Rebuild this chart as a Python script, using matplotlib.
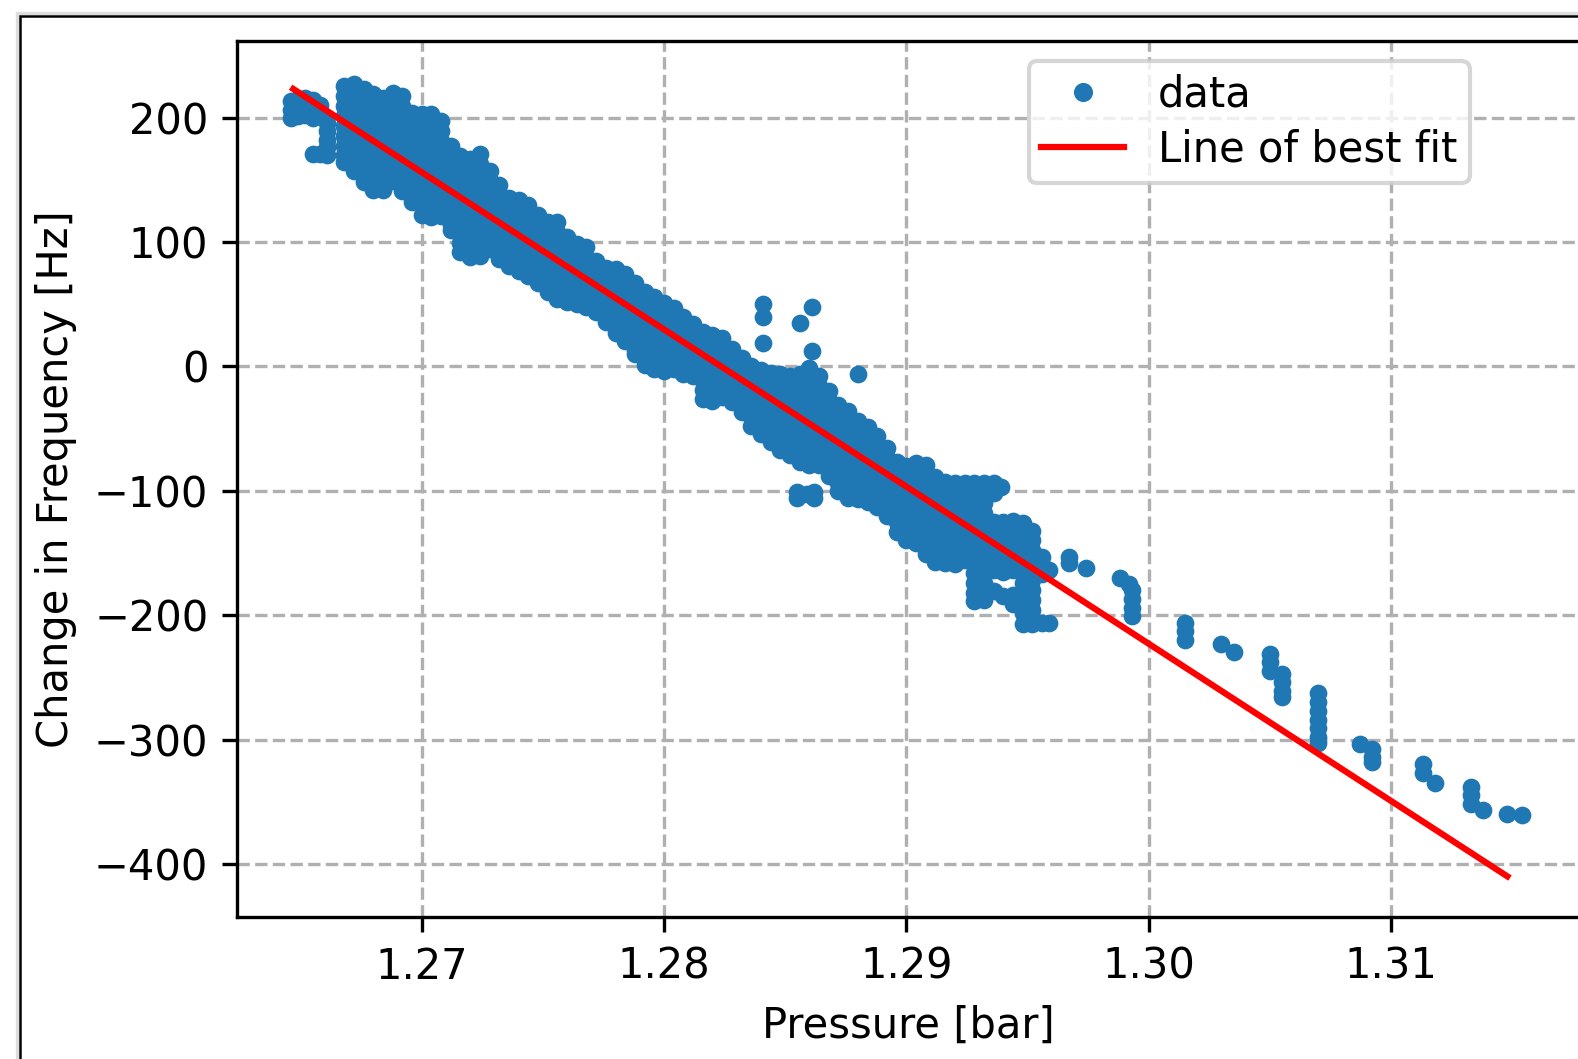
import matplotlib
matplotlib.use("Agg")
import matplotlib.pyplot as plt
from matplotlib.patches import Rectangle

# pressure [bar] of each column of the dense cloud, and the frequency values in it [Hz]
band_p = [1.2668, 1.2672, 1.2676, 1.2680, 1.2684, 1.2688, 1.2692, 1.2696, 1.2700, 1.2704,
          1.2708, 1.2712, 1.2716, 1.2720, 1.2724, 1.2728, 1.2732, 1.2736, 1.2740, 1.2744,
          1.2748, 1.2752, 1.2756, 1.2760, 1.2764, 1.2768, 1.2772, 1.2776, 1.2780, 1.2784,
          1.2788, 1.2792, 1.2796, 1.2800, 1.2804, 1.2808, 1.2812, 1.2816, 1.2820, 1.2824,
          1.2828, 1.2832, 1.2836, 1.2840, 1.2844, 1.2848, 1.2852, 1.2856, 1.2860, 1.2864,
          1.2868, 1.2872, 1.2876, 1.2880, 1.2884, 1.2888, 1.2892, 1.2896, 1.2900, 1.2904,
          1.2908, 1.2912, 1.2916, 1.2920, 1.2924, 1.2928, 1.2932, 1.2936, 1.2939, 1.2940,
          1.2944, 1.2948, 1.2952, 1.2956, 1.2959]
band_f = [
    [225, 217, 209, 201, 193, 185, 177, 170, 164],
    [227, 219, 211, 203, 195, 187, 179, 171, 164, 157],
    [223, 215, 207, 199, 191, 183, 175, 167, 159, 152, 148],
    [219, 211, 203, 195, 187, 179, 171, 163, 155, 148, 142],
    [216, 208, 200, 192, 184, 176, 168, 160, 152, 146, 142],
    [220, 212, 204, 196, 188, 180, 172, 164, 156, 149],
    [217, 209, 201, 193, 185, 177, 169, 161, 153, 146, 141],
    [204, 196, 188, 180, 172, 164, 156, 148, 140, 132],
    [203, 195, 187, 179, 171, 163, 155, 147, 139, 131, 122],
    [203, 195, 187, 179, 171, 163, 155, 147, 139, 131, 124, 120],
    [197, 189, 181, 173, 165, 157, 149, 141, 133, 126, 121],
    [177, 169, 161, 153, 145, 137, 129, 121, 114, 110],
    [169, 161, 153, 145, 137, 129, 121, 113, 106, 99, 92],
    [167, 159, 151, 143, 135, 127, 119, 111, 103, 95, 88],
    [171, 163, 155, 147, 139, 131, 123, 115, 107, 99, 93, 89],
    [157, 149, 141, 133, 125, 117, 109, 101, 94],
    [146, 138, 130, 122, 114, 106, 98, 91, 86],
    [135, 127, 119, 111, 103, 95, 88, 81],
    [134, 126, 118, 110, 102, 94, 86, 80, 77],
    [130, 122, 114, 106, 98, 90, 82, 76, 73],
    [122, 114, 106, 98, 90, 82, 74, 67],
    [116, 108, 100, 92, 84, 76, 68, 60],
    [116, 108, 100, 92, 84, 76, 68, 61, 54],
    [104, 96, 88, 80, 72, 64, 57, 52],
    [98, 90, 82, 74, 66, 58, 50],
    [96, 88, 80, 72, 64, 56, 48],
    [85, 77, 69, 61, 53, 47, 44],
    [79, 71, 63, 55, 47, 40, 36],
    [78, 70, 62, 54, 46, 38, 31, 27],
    [74, 66, 58, 50, 42, 34, 27, 20],
    [67, 59, 51, 43, 35, 27, 19, 13, 10],
    [60, 52, 44, 36, 28, 20, 12, 5, 1],
    [56, 48, 40, 32, 24, 16, 8, 2, -2],
    [51, 43, 35, 27, 19, 11, 4, -4],
    [47, 39, 31, 23, 15, 7, 0, -2],
    [40, 32, 24, 16, 8, 1, -6],
    [34, 26, 18, 10, 2, -5, -8],
    [28, 20, 12, 4, -4, -12, -19, -26],
    [25, 17, 9, 1, -7, -15, -22, -28],
    [23, 15, 7, -1, -9, -17, -25],
    [14, 6, -2, -10, -18, -25, -29],
    [7, -1, -9, -17, -25, -32, -37],
    [0, -8, -16, -24, -32, -40, -48],
    [-3, -11, -19, -27, -35, -43, -50, -54],
    [-5, -13, -21, -29, -37, -45, -53, -61],
    [-6, -14, -22, -30, -38, -46, -54, -61, -67],
    [-8, -16, -24, -32, -40, -48, -56, -64, -71],
    [-6, -14, -22, -30, -38, -46, -54, -62, -70, -77],
    [-1, -9, -17, -25, -33, -41, -49, -57, -65, -72, -79],
    [-8, -16, -24, -32, -40, -48, -56, -64, -72, -79],
    [-20, -28, -36, -44, -52, -60, -68, -76, -83, -88],
    [-31, -39, -47, -55, -63, -71, -79, -87, -94, -100],
    [-36, -44, -52, -60, -68, -76, -84, -92, -100, -106],
    [-44, -52, -60, -68, -76, -84, -92, -100, -107],
    [-49, -57, -65, -73, -81, -89, -97, -104, -109],
    [-56, -64, -72, -80, -88, -96, -104, -110, -113],
    [-66, -74, -82, -90, -98, -106, -114, -120],
    [-77, -85, -93, -101, -109, -117, -125, -133],
    [-80, -88, -96, -104, -112, -120, -128, -135, -140],
    [-78, -86, -94, -102, -110, -118, -126, -134, -142],
    [-79, -87, -95, -103, -111, -119, -127, -135, -143, -151],
    [-89, -97, -105, -113, -121, -129, -137, -145, -152, -157],
    [-93, -101, -109, -117, -125, -133, -141, -149, -158],
    [-94, -102, -110, -118, -126, -134, -142, -150, -159],
    [-94, -102, -110, -118, -126, -134, -142, -150, -156],
    [-94, -102, -110, -118, -126, -134, -142, -150, -158, -166, -174, -182, -189],
    [-94, -102, -110, -118, -126, -134, -142, -150, -158, -166, -174, -182, -188],
    [-94, -102, -125, -133, -141, -149, -157, -164, -181],
    [-97],
    [-125, -133, -141, -149, -157, -165, -185],
    [-124, -132, -140, -148, -156, -164, -184, -191],
    [-126, -134, -142, -150, -158, -166, -174, -182, -190, -198, -207],
    [-132, -140, -148, -156, -164, -172, -180, -188, -196, -204, -207],
    [-153, -160, -167, -206],
    [-164, -206],
]

# small clumps at the start of the run
start_p = [1.2646, 1.2646, 1.2646, 1.2649, 1.2649, 1.2649, 1.2652, 1.2652, 1.2652,
           1.2655, 1.2655, 1.2655, 1.2658, 1.2658,
           1.2661, 1.2661, 1.2661, 1.2661, 1.2661, 1.2655, 1.2658]
start_f = [213, 206, 200, 215, 208, 201, 216, 209, 202,
           214, 207, 200, 210, 202,
           196, 189, 182, 176, 170, 171, 171]

# stray points off the band
stray_p = [1.2841, 1.2841, 1.2841, 1.2861, 1.2856, 1.2861, 1.2880,
           1.2855, 1.2855, 1.2859, 1.2862, 1.2862]
stray_f = [50, 40, 19, 48, 35, 12, -6,
           -101, -106, -103, -101, -106]

# sparse points at high pressure
tail_p = [1.2967, 1.2967, 1.2974, 1.2988, 1.2992, 1.2993, 1.2993, 1.2993, 1.2993,
          1.3015, 1.3015, 1.3015, 1.3030, 1.3035, 1.3050, 1.3050, 1.3050,
          1.3055, 1.3055, 1.3055, 1.3055,
          1.3070, 1.3070, 1.3070, 1.3070, 1.3070, 1.3070, 1.3070,
          1.3087, 1.3092, 1.3092, 1.3092, 1.3113, 1.3113, 1.3118,
          1.3133, 1.3133, 1.3133, 1.3138, 1.3148, 1.3154]
tail_f = [-153, -158, -162, -170, -175, -180, -187, -194, -201,
          -206, -213, -220, -223, -230, -231, -238, -245,
          -247, -254, -261, -266,
          -263, -270, -277, -284, -291, -298, -303,
          -304, -308, -314, -318, -320, -327, -335,
          -338, -345, -352, -357, -360, -361]

# end points of the fitted line
fit_p = [1.2647, 1.3148]
fit_f = [223, -410]

pressure = []
freq = []
for p, col in zip(band_p, band_f):
    pressure += [p] * len(col)
    freq += col
pressure += start_p + stray_p + tail_p
freq += start_f + stray_f + tail_f

fig = plt.figure(figsize=(5.26, 3.53), dpi=300)
ax = fig.add_axes([0.1505, 0.1343, 0.8508, 0.8267])

ax.plot(pressure, freq, '.', color='#1f77b4', ms=6.5, label='data')
ax.plot(fit_p, fit_f, 'r-', label='Line of best fit')

ax.set_xlim(1.2624, 1.3178)
ax.set_ylim(-442.5, 261.3)
ax.set_xticks([1.27, 1.28, 1.29, 1.30, 1.31])
ax.set_xticklabels(['1.27', '1.28', '1.29', '1.30', '1.31'])
ax.set_yticks([-400, -300, -200, -100, 0, 100, 200])
ax.set_xlabel('Pressure [bar]')
ax.set_ylabel('Change in Frequency [Hz]')
ax.grid(True, linestyle='--')
ax.legend(loc='upper left', bbox_to_anchor=(1028.5 / 1578, 1 - 61.4 / 1059),
          bbox_transform=fig.transFigure, borderaxespad=0, borderpad=0.3,
          labelspacing=0.3, markerscale=1.1)

# frame of the screenshot around the figure
fig.patches.append(Rectangle((17 / 1578, -0.1), 1.2, 1.1 - 13 / 1059,
                             transform=fig.transFigure, fill=False,
                             edgecolor='#dddddd', lw=0.8, clip_on=False))
fig.patches.append(Rectangle((20 / 1578, -0.1), 1.2, 1.1 - 16 / 1059,
                             transform=fig.transFigure, fill=False,
                             edgecolor='black', lw=0.6, clip_on=False))

fig.savefig('out.png', dpi=300)
